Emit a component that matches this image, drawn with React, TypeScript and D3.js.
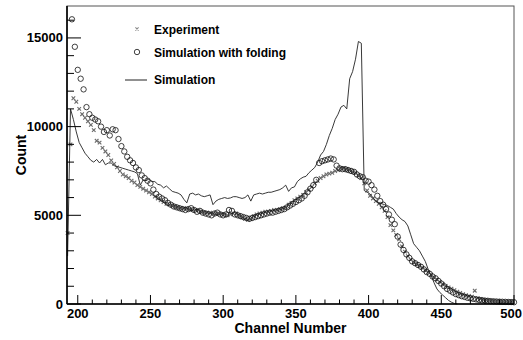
import React from "react";
import * as d3 from "d3";

const W = 523;
const H = 340;
const margin = { top: 6, right: 9, bottom: 36, left: 67 };

// channel bins are every 2nd channel, starting at these channels
const expStart = 193;
const expCounts = [
  4000, 9000, 11600, 11400, 11000, 10700, 10500, 10300, 10100, 9800, // 193
  9200, 9100, 8800, 8600, 8400, 8100, 7900, 7700, 7500, 7300, // 213
  7200, 7100, 6950, 6850, 6700, 6600, 6500, 6400, 6300, 6200, // 233
  6050, 5950, 5850, 5750, 5650, 5600, 5550, 5500, 5450, 5400, // 253
  5400, 5380, 5350, 5300, 5300, 5280, 5200, 5150, 5150, 5150, // 273
  5100, 5100, 5080, 5050, 5050, 5000, 5050, 5100, 5100, 5000, // 293
  4900, 4800, 4750, 4800, 4950, 5050, 5100, 5150, 5200, 5200, // 313
  5250, 5300, 5300, 5350, 5400, 5450, 5600, 5700, 5850, 5950, // 333
  6050, 6150, 6300, 6450, 6600, 6800, 6950, 7100, 7200, 7300, // 353
  7350, 7400, 7500, 7550, 7650, 7650, 7600, 7550, 7450, 7400, // 373
  7250, 7100, 6800, 6400, 6100, 5950, 5800, 5650, 5450, 5250, // 393
  4900, 4450, 4150, 3900, 3650, 3250, 2950, 2700, 2500, 2350, // 413
  2250, 2150, 2050, 1920, 1800, 1650, 1500, 1380, 1250, 1130, // 433
  1020, 940, 870, 780, 690, 620, 560, 500, 450, 410, // 453
  750, 330, 280, 240, 210, 190, 170, 150, 140, 130, // 473
  125, 120, 115, 110, // 493
];

const foldStart = 196;
const foldCounts = [
  16050, 14500, 13200, 12700, 12100, 11100, 10700, 10500, 10400, 10300, // 196
  10000, 9700, 9800, 9500, 9850, 9800, 9300, 8900, 8600, 8300, // 216
  8100, 7950, 7700, 7550, 7250, 7100, 6950, 6800, 6450, 6200, // 236
  6050, 5950, 5850, 5700, 5600, 5500, 5450, 5400, 5350, 5300, // 256
  5350, 5400, 5300, 5200, 5250, 5150, 5100, 5050, 5000, 5100, // 276
  5150, 5050, 5000, 5050, 5300, 5250, 5050, 5000, 4950, 4900, // 296
  4850, 4800, 4850, 4900, 4950, 5000, 5050, 5100, 5150, 5150, // 316
  5200, 5250, 5300, 5350, 5450, 5550, 5650, 5750, 5850, 5950, // 336
  6100, 6300, 6500, 6700, 7000, 7950, 8050, 8100, 8150, 8200, // 356
  8150, 7800, 7650, 7600, 7600, 7550, 7500, 7450, 7300, 7200, // 376
  7150, 6950, 6900, 6700, 6450, 6100, 5800, 5600, 5350, 5050, // 396
  4750, 4500, 3800, 3350, 3050, 2800, 2600, 2400, 2300, 2200, // 416
  2100, 1950, 1800, 1700, 1550, 1450, 1300, 1150, 1000, 850, // 436
  750, 650, 560, 500, 440, 400, 350, 320, 290, 260, // 456
  230, 210, 190, 180, 160, 150, 140, 130, 125, 120, // 476
  115, 110, 100, // 496
];

const simStart = 193;
const simCounts = [
  2700, 11000, 10400, 9700, 9100, 8800, 8500, 8300, 8100, 8000, // 193
  8150, 7950, 8150, 7850, 7950, 7950, 7800, 7750, 7700, 7650, // 213
  7600, 7550, 7500, 7450, 7350, 6700, 7000, 6950, 7050, 6900, // 233
  6900, 6750, 6700, 6550, 6650, 6500, 6350, 6300, 6250, 6150, // 253
  5900, 5700, 6200, 6250, 6150, 6200, 6100, 6050, 6100, 6150, // 273
  5600, 5800, 5900, 5950, 6000, 5950, 5980, 6050, 6050, 6000, // 293
  5950, 6000, 6150, 5800, 6150, 6200, 6250, 6200, 6250, 6300, // 313
  6300, 6350, 6400, 6450, 6550, 6700, 6350, 6550, 6600, 6900, // 333
  7050, 7150, 7200, 7400, 7550, 7700, 8000, 8400, 8600, 9000, // 353
  9500, 9900, 10400, 10700, 11100, 11200, 11000, 12700, 13100, 13800, // 373
  14800, 14700, 6400, 6300, 6200, 6000, 5800, 5700, 5650, 5600, // 393
  5550, 5450, 5350, 5100, 4900, 4750, 4650, 4400, 3900, 3400, // 413
  3200, 3000, 2700, 2400, 1950, 1600, 1200, 850, 650, 500, // 433
  350, 200, 100, 30, 0, // 453
];

const xMajor = [200, 250, 300, 350, 400, 450, 500];
const yMajor = [0, 5000, 10000, 15000];

const legendItems = ["Experiment", "Simulation with folding", "Simulation"];

const App = () => {
  const x = d3
    .scaleLinear()
    .domain([192.6, 500])
    .range([margin.left, W - margin.right]);
  const y = d3
    .scaleLinear()
    .domain([0, 16800])
    .range([H - margin.bottom, margin.top]);

  const expPts = expCounts.map((v, i) => [expStart + 2 * i, v]);
  const foldPts = foldCounts.map((v, i) => [foldStart + 2 * i, v]);
  const simPts = simCounts.map((v, i) => [simStart + 2 * i, v]);

  const line = d3
    .line<number[]>()
    .x((d) => x(d[0]))
    .y((d) => y(d[1]));

  const xMinor = d3.range(200, 501, 10);
  const yMinor = d3.range(0, 16001, 1000);
  const x0 = margin.left;
  const yb = H - margin.bottom;
  const font = "'Liberation Sans', Arial, sans-serif";

  const cross = (cx: number, cy: number, s: number, key: any, color: string) => (
    <path
      key={key}
      d={`M${cx - s},${cy - s}L${cx + s},${cy + s}M${cx - s},${cy + s}L${cx + s},${cy - s}`}
      stroke={color}
      strokeWidth={1.1}
      fill="none"
    />
  );

  return (
    <div style={{ position: "absolute", left: 0, top: 0 }}>
      <svg width={W} height={H} style={{ display: "block", background: "#fff" }}>
        {/* frame */}
        <rect
          x={x0}
          y={margin.top}
          width={W - margin.right - x0}
          height={yb - margin.top}
          fill="none"
          stroke="#555"
          strokeWidth={1}
        />
        {/* experiment */}
        <g>{expPts.map((d, i) => cross(x(d[0]), y(d[1]), 1.8, i, "#6a6a6a"))}</g>
        {/* simulation with folding */}
        <g>
          {foldPts.map((d, i) => (
            <circle
              key={i}
              cx={x(d[0])}
              cy={y(d[1])}
              r={2.7}
              fill="none"
              stroke="#111"
              strokeWidth={0.8}
            />
          ))}
        </g>
        {/* simulation */}
        <path d={line(simPts) || ""} fill="none" stroke="#222" strokeWidth={0.9} />

        {/* axes */}
        <line x1={x0} x2={x0} y1={margin.top} y2={yb} stroke="#000" strokeWidth={1.6} />
        <line x1={x0} x2={W - margin.right} y1={yb} y2={yb} stroke="#000" strokeWidth={1.6} />
        {yMinor.map((v) => {
          const major = yMajor.includes(v);
          return (
            <line
              key={"ym" + v}
              x1={x0}
              x2={x0 + (major ? 14 : 7)}
              y1={y(v)}
              y2={y(v)}
              stroke="#000"
              strokeWidth={1}
            />
          );
        })}
        {xMinor.map((v) => {
          const major = xMajor.includes(v);
          return (
            <line
              key={"xm" + v}
              x1={x(v)}
              x2={x(v)}
              y1={yb}
              y2={yb - (major ? 9 : 4.5)}
              stroke="#000"
              strokeWidth={1}
            />
          );
        })}
        {yMajor.map((v) => (
          <text
            key={"yl" + v}
            x={x0 - 4}
            y={y(v)}
            dy="0.35em"
            textAnchor="end"
            fontFamily={font}
            fontWeight="bold"
            fontSize={13}
          >
            {v}
          </text>
        ))}
        {xMajor.map((v) => (
          <text
            key={"xl" + v}
            x={v === 500 ? W - 1 : x(v)}
            y={yb + 14}
            textAnchor={v === 500 ? "end" : "middle"}
            fontFamily={font}
            fontWeight="bold"
            fontSize={13}
          >
            {v}
          </text>
        ))}
        <text
          x={(x0 + W - margin.right) / 2}
          y={333}
          textAnchor="middle"
          fontFamily={font}
          fontWeight="bold"
          fontSize={14}
        >
          Channel Number
        </text>
        <text
          transform={`translate(26,${(yb + margin.top) / 2}) rotate(-90)`}
          textAnchor="middle"
          fontFamily={font}
          fontWeight="bold"
          fontSize={14}
        >
          Count
        </text>

        {/* legend */}
        {cross(137, 29, 1.6, "lg0", "#8a8a8a")}
        <circle cx={137} cy={52} r={2.7} fill="none" stroke="#111" strokeWidth={0.8} />
        <line x1={125} x2={147} y1={80} y2={80} stroke="#222" strokeWidth={1} />
        {legendItems.map((t, i) => (
          <text
            key={t}
            x={154}
            y={[33.5, 56.5, 84][i]}
            fontFamily={font}
            fontWeight="bold"
            fontSize={12}
          >
            {t}
          </text>
        ))}
      </svg>
    </div>
  );
};

export default App;
